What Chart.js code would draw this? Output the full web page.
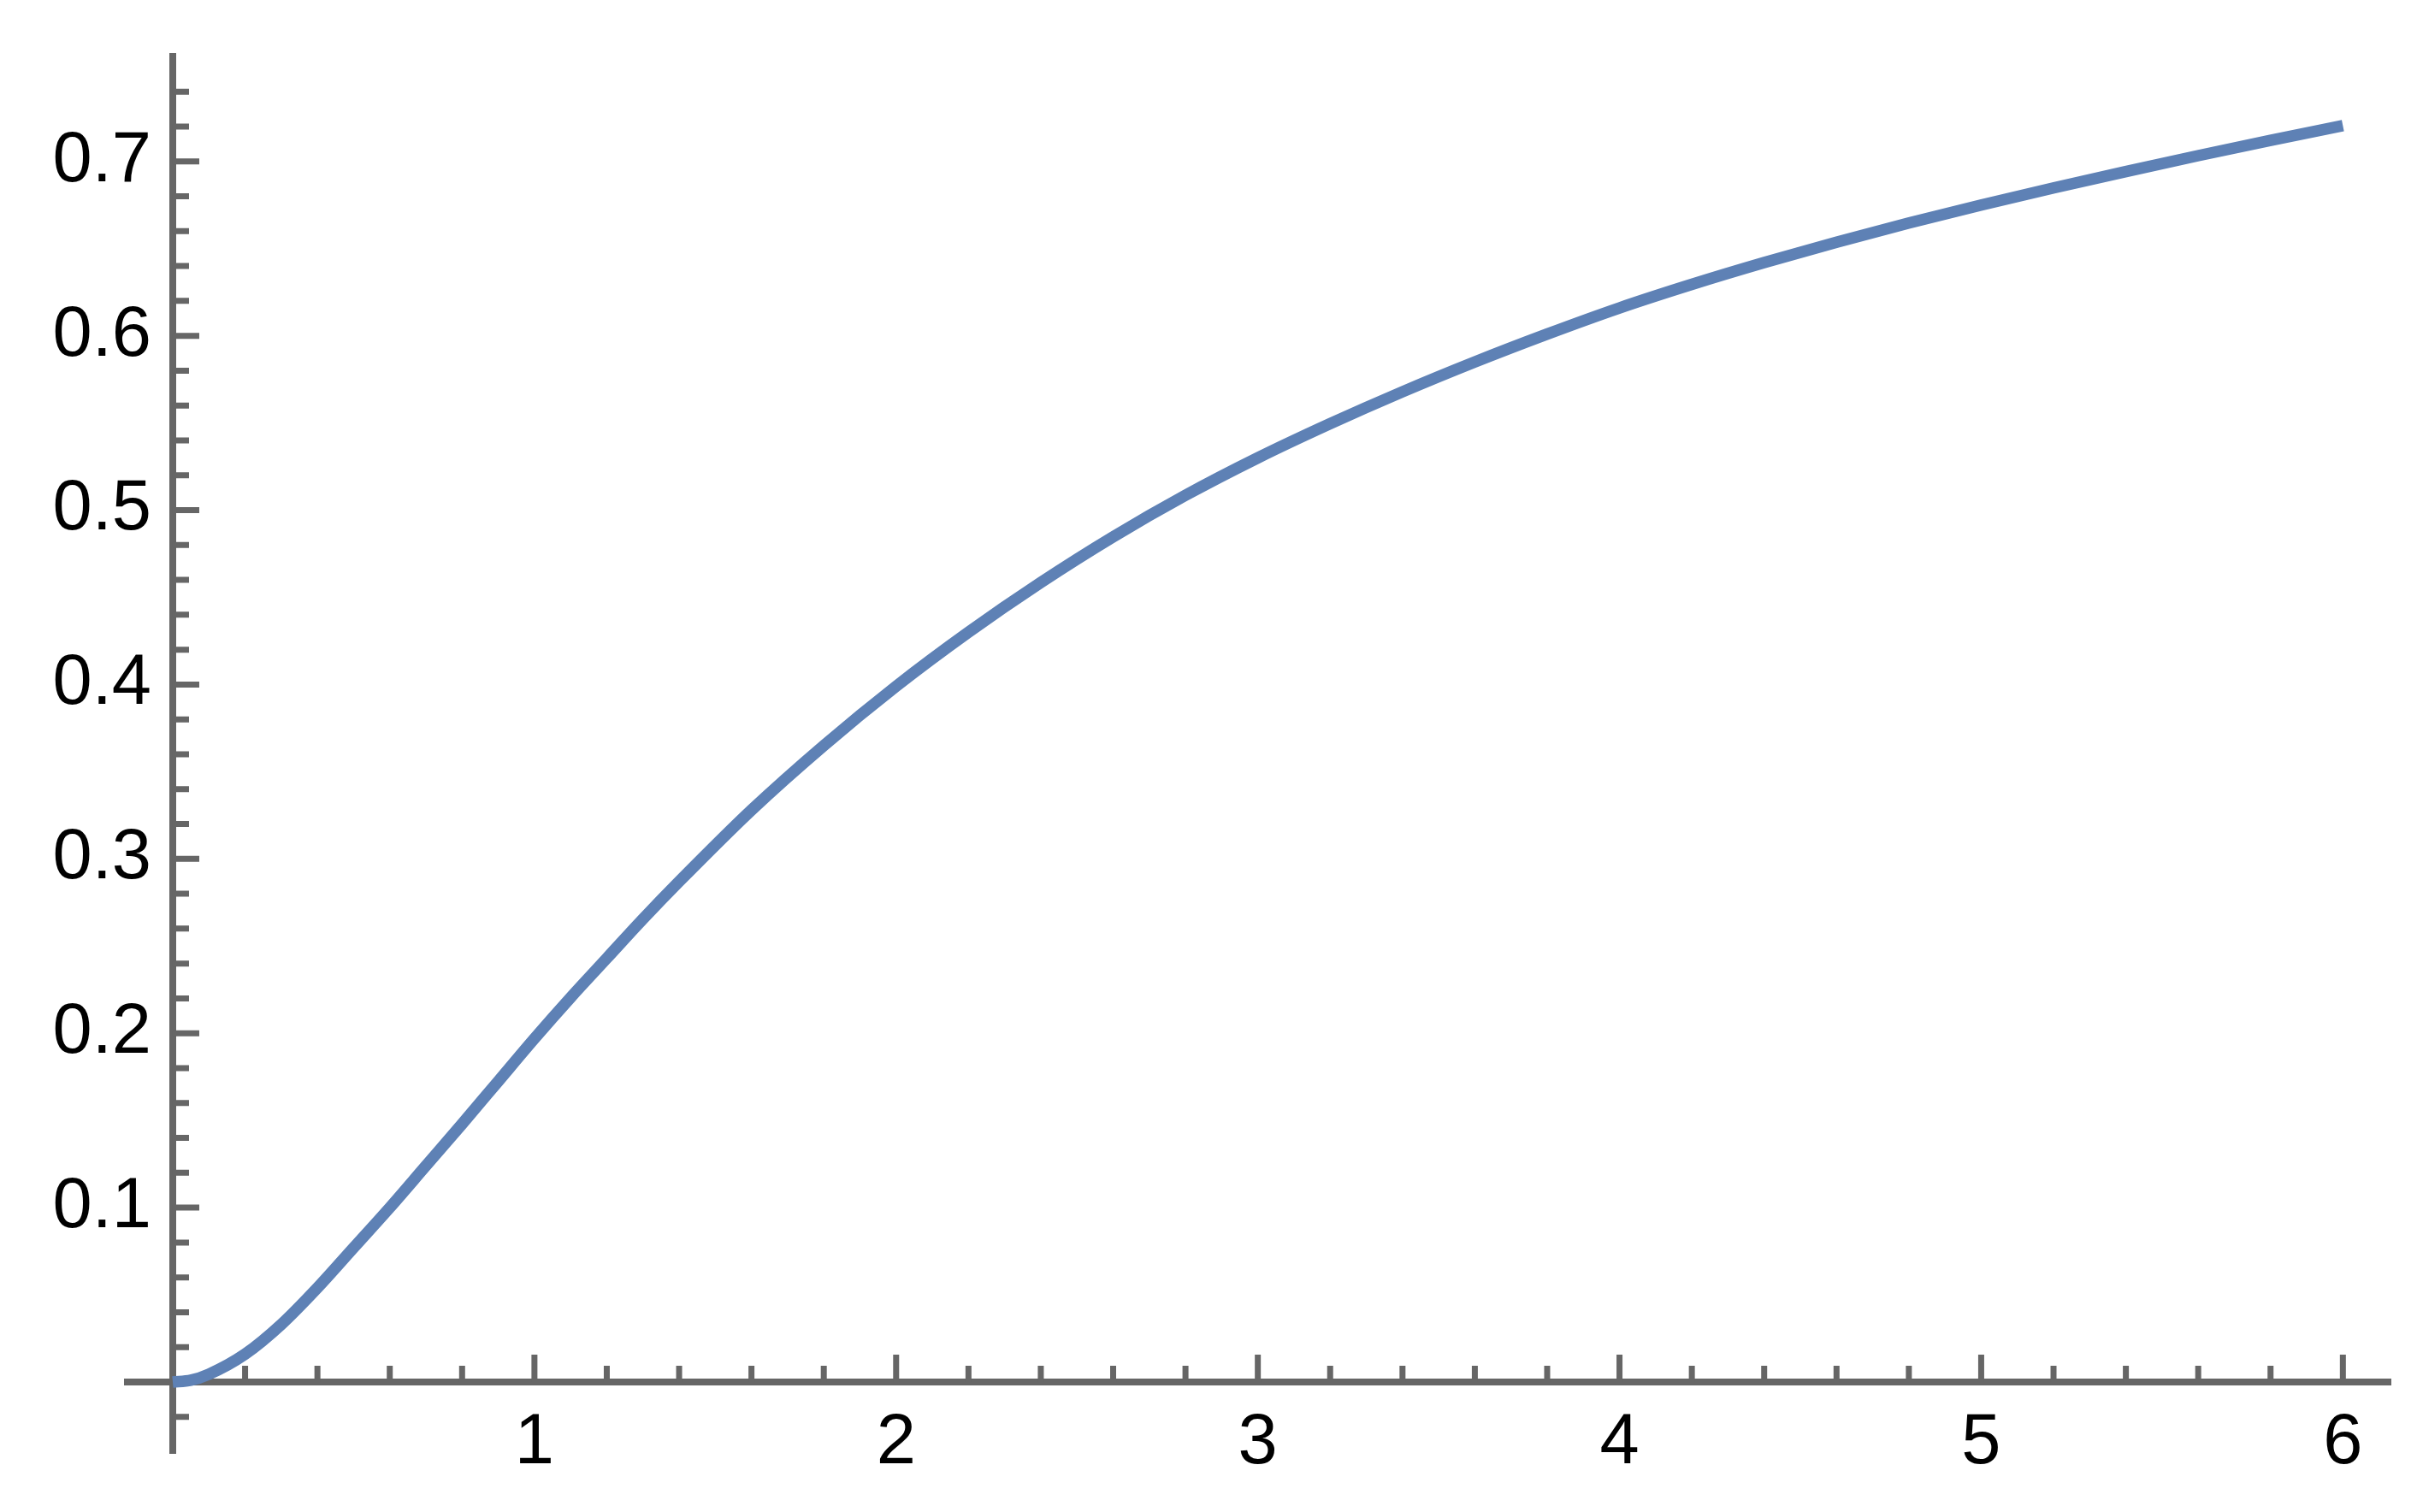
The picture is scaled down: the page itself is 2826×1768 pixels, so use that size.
<!DOCTYPE html>
<html>
<head>
<meta charset="utf-8">
<script src="https://cdn.jsdelivr.net/npm/chart.js@4/dist/chart.umd.min.js"></script>
<style>
  html, body { margin: 0; padding: 0; background: #ffffff; }
  #wrap { width: 2826px; height: 1768px; }
</style>
</head>
<body>
<div id="wrap"><canvas id="c" width="2826" height="1768"></canvas></div>
<script>
// ---- data ----
const xValues = [0, 0.05, 0.1, 0.2, 0.3, 0.4, 0.5, 0.6, 0.7, 0.8, 0.9, 1.0, 1.1, 1.2, 1.3, 1.4, 1.6, 1.8, 2.0, 2.2, 2.4, 2.6, 2.8, 3.0,
                 3.2, 3.4, 3.6, 3.8, 4.0, 4.2, 4.4, 4.6, 4.8, 5.0, 5.2, 5.4, 5.6, 5.8, 6.0];
const yValues = [0, 0.001, 0.0045, 0.016, 0.033, 0.054, 0.077, 0.100, 0.124, 0.148, 0.1725, 0.197, 0.2205, 0.243, 0.2655, 0.287, 0.328, 0.365, 0.399, 0.430, 0.4585, 0.4847, 0.5085, 0.530,
                 0.5496, 0.5679, 0.585, 0.601, 0.616, 0.6295, 0.642, 0.6537, 0.6647, 0.675, 0.6848, 0.6942, 0.7033, 0.7121, 0.7205];

// ---- tick labels ----
const xTickLabels = [1, 2, 3, 4, 5, 6];
const yTickLabels = [0.1, 0.2, 0.3, 0.4, 0.5, 0.6, 0.7];

// ---- axis ranges ----
const xRange = [-0.1253, 6.134];
const yRange = [-0.0412, 0.7602];

// minor/major tick positions (axis decoration)
const xTickMarks = [];
for (let k = 1; k <= 30; k++) xTickMarks.push(+(k * 0.2).toFixed(2));
const yTickMarks = [];
for (let k = -1; k <= 37; k++) yTickMarks.push(+(k * 0.02).toFixed(2));

const AXIS_COLOR = '#666666';
const LINE_COLOR = '#5E81B5';
const FONT = { family: "'Liberation Sans', Arial, sans-serif", size: 83 };
const PAD = { left: 149, right: 30, top: 66, bottom: 68 };
const X_PX_PER_UNIT = (2826 - PAD.left - PAD.right) / (xRange[1] - xRange[0]);
const Y_LABEL_GAP = 25; // px between y axis line and right edge of its labels

const axisTicks = {
  id: 'axisTicks',
  beforeDatasetsDraw(chart) {
    const { ctx } = chart;
    const xs = chart.scales.x, ys = chart.scales.y;
    const x0 = xs.getPixelForValue(0);
    const y0 = ys.getPixelForValue(0);
    ctx.save();
    ctx.strokeStyle = AXIS_COLOR;
    ctx.lineWidth = 7;
    ctx.lineCap = 'butt';
    ctx.beginPath();
    xTickMarks.forEach(v => {
      const major = Math.abs(v - Math.round(v)) < 1e-6;
      const px = xs.getPixelForValue(v);
      ctx.moveTo(px, y0);
      ctx.lineTo(px, y0 - (major ? 32 : 19));
    });
    yTickMarks.forEach(v => {
      const major = Math.abs(v * 10 - Math.round(v * 10)) < 1e-6;
      const py = ys.getPixelForValue(v);
      ctx.moveTo(x0, py);
      ctx.lineTo(x0 + (major ? 31 : 19), py);
    });
    ctx.stroke();
    ctx.restore();
  }
};

const yLabelCallback = v => yTickLabels.some(t => Math.abs(t - v) < 1e-9) ? v.toFixed(1) : '';

new Chart(document.getElementById('c'), {
  type: 'line',
  data: {
    datasets: [{
      data: xValues.map((x, i) => ({ x: x, y: yValues[i] })),
      xAxisID: 'x',
      yAxisID: 'y',
      borderColor: LINE_COLOR,
      borderWidth: 13.5,
      pointRadius: 0,
      cubicInterpolationMode: 'monotone',
      fill: false,
      clip: false
    }]
  },
  options: {
    responsive: false,
    devicePixelRatio: 1,
    animation: false,
    events: [],
    layout: { padding: PAD },
    plugins: { legend: { display: false }, tooltip: { enabled: false }, title: { display: false } },
    scales: {
      x: {
        type: 'linear',
        axis: 'x',
        min: xRange[0],
        max: xRange[1],
        position: { y: 0 },
        grid: { display: false, drawTicks: false, lineWidth: 0 },
        border: { display: true, color: AXIS_COLOR, width: 8 },
        ticks: {
          stepSize: 1,
          includeBounds: false,
          autoSkip: false,
          maxRotation: 0,
          padding: 22,
          color: '#000000',
          font: FONT,
          callback: v => xTickLabels.some(t => Math.abs(t - v) < 1e-9) ? String(Math.round(v)) : ''
        }
      },
      y: {
        type: 'linear',
        axis: 'y',
        min: yRange[0],
        max: yRange[1],
        position: { x: 0 },
        grid: { display: false, drawTicks: false, lineWidth: 0 },
        border: { display: true, color: AXIS_COLOR, width: 8 },
        ticks: { display: false, stepSize: 0.1, includeBounds: false }
      },
      yLab: {
        type: 'linear',
        axis: 'y',
        min: yRange[0],
        max: yRange[1],
        position: { x: -Y_LABEL_GAP / X_PX_PER_UNIT },
        grid: { display: false, drawTicks: false, lineWidth: 0 },
        border: { display: false },
        ticks: {
          stepSize: 0.1,
          includeBounds: false,
          autoSkip: false,
          padding: 0,
          color: '#000000',
          font: FONT,
          callback: yLabelCallback
        }
      }
    }
  },
  plugins: [axisTicks]
});
</script>
</body>
</html>
